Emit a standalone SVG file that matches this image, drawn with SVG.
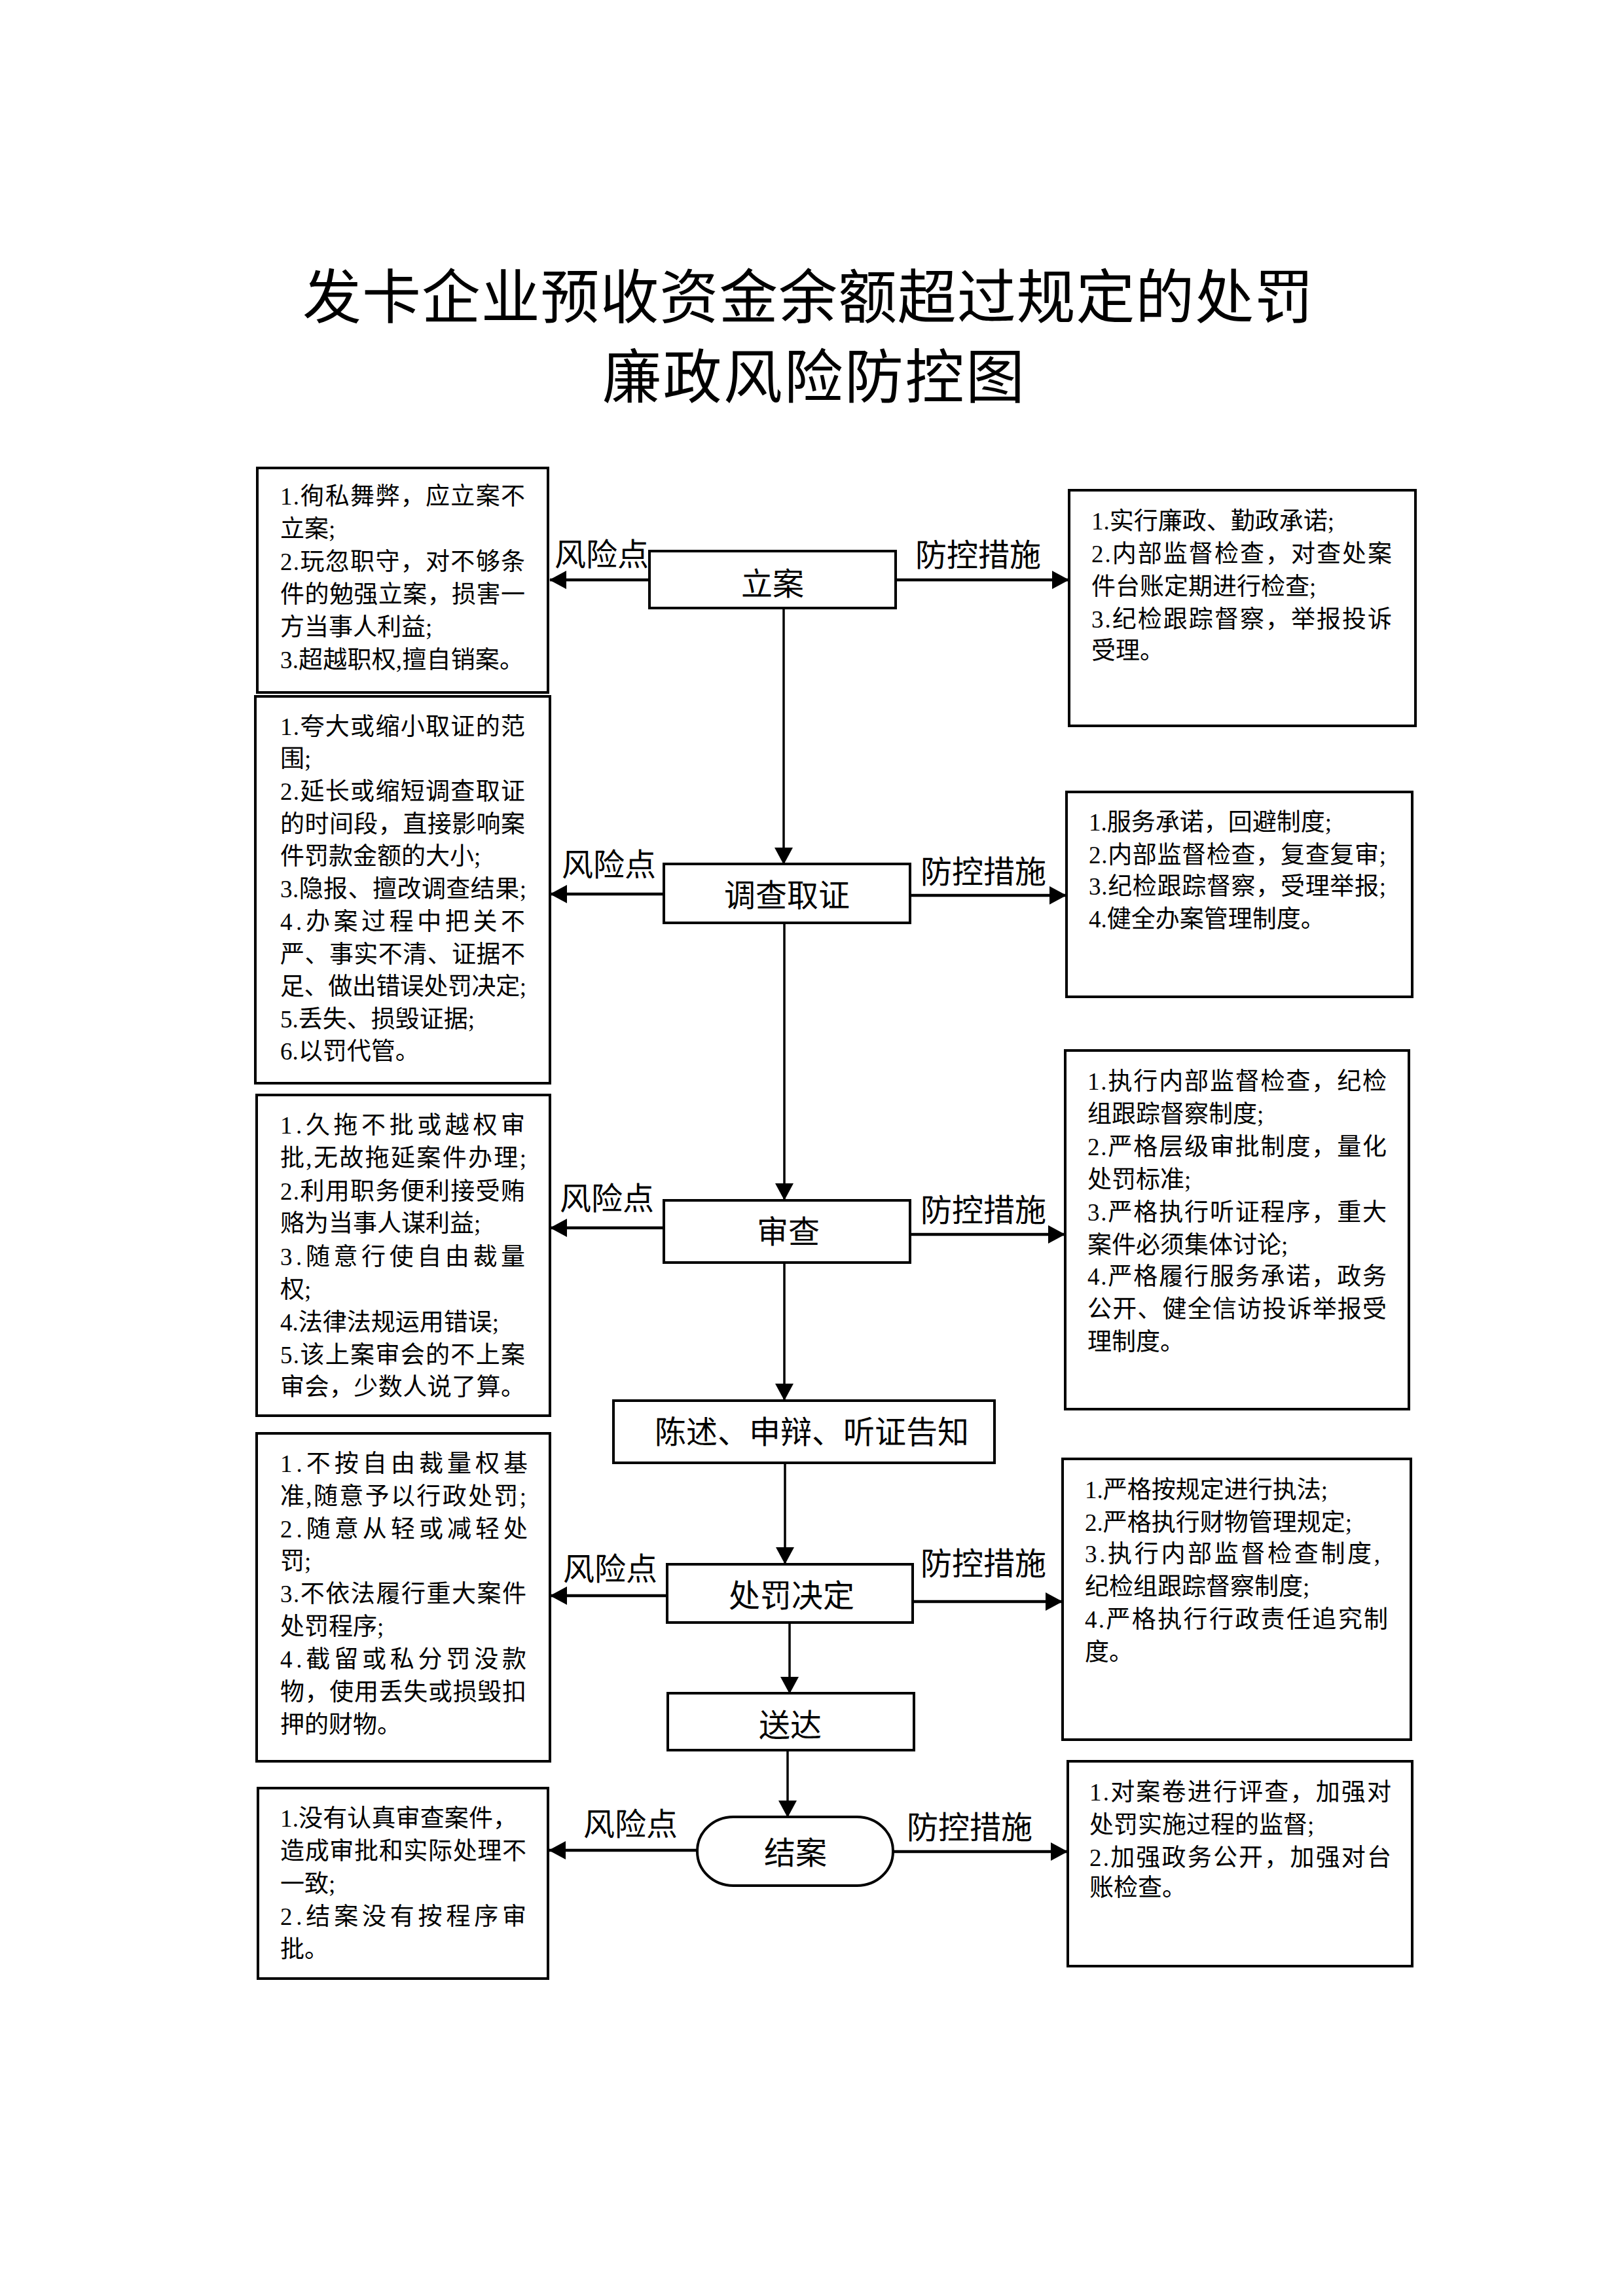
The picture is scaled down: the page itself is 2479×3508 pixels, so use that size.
<svg xmlns="http://www.w3.org/2000/svg" width="2479" height="3508" viewBox="0 0 2479 3508">
<style>
.bg{fill:#fff}
.box{fill:#fff;stroke:#000;stroke-width:4}
.t{font-family:"Liberation Serif","Noto Sans CJK SC",serif;font-size:37px;fill:#000}
.n{font-family:"Liberation Serif","Noto Sans CJK SC",serif;font-size:48px;fill:#000;text-anchor:middle}
.lbl{font-family:"Liberation Serif","Noto Sans CJK SC",serif;font-size:48px;fill:#000}
.title{font-family:"Liberation Serif","Noto Sans CJK SC",serif;font-size:90px;fill:#000}
.h{stroke:#000;stroke-width:4.5;fill:none;marker-end:url(#ah)}
.v{stroke:#000;stroke-width:3.5;fill:none;marker-end:url(#ah)}
</style>
<defs>
<marker id="ah" markerUnits="userSpaceOnUse" markerWidth="26" markerHeight="28" refX="25" refY="14" orient="auto">
<path d="M0,0 L26,14 L0,28 z" fill="#000"/>
</marker>
</defs>
<rect class="bg" x="0" y="0" width="2479" height="3508"/>

<g id="title">
<text class="title" x="462" y="486" textLength="1544" lengthAdjust="spacing">发卡企业预收资金余额超过规定的处罚</text>
<text class="title" x="920" y="608" textLength="645" lengthAdjust="spacing">廉政风险防控图</text>
</g>

<g id="connectors">
<line class="h" x1="992" y1="886" x2="840" y2="886"/>
<line class="h" x1="1368" y1="886" x2="1632" y2="886"/>
<line class="v" x1="1197" y1="929" x2="1197" y2="1320"/>
<line class="h" x1="1014" y1="1366" x2="841" y2="1366"/>
<line class="h" x1="1390" y1="1368" x2="1628" y2="1368"/>
<line class="v" x1="1198" y1="1410" x2="1198" y2="1833"/>
<line class="h" x1="1014" y1="1876" x2="841" y2="1876"/>
<line class="h" x1="1390" y1="1886" x2="1626" y2="1886"/>
<line class="v" x1="1198" y1="1929" x2="1198" y2="2139"/>
<line class="v" x1="1199" y1="2235" x2="1199" y2="2389"/>
<line class="h" x1="1019" y1="2438" x2="841" y2="2438"/>
<line class="h" x1="1394" y1="2447" x2="1622" y2="2447"/>
<line class="v" x1="1206" y1="2479" x2="1206" y2="2587"/>
<line class="v" x1="1203" y1="2674" x2="1203" y2="2776"/>
<line class="h" x1="1065" y1="2827" x2="839" y2="2827"/>
<line class="h" x1="1364" y1="2829" x2="1630" y2="2829"/>
</g>

<g id="edge-labels">
<text class="lbl" x="847" y="864">风险点</text>
<text class="lbl" x="1398" y="865">防控措施</text>
<text class="lbl" x="858" y="1338">风险点</text>
<text class="lbl" x="1406" y="1349">防控措施</text>
<text class="lbl" x="855" y="1848">风险点</text>
<text class="lbl" x="1406" y="1866">防控措施</text>
<text class="lbl" x="860" y="2414">风险点</text>
<text class="lbl" x="1406" y="2406">防控措施</text>
<text class="lbl" x="891" y="2804">风险点</text>
<text class="lbl" x="1385" y="2809">防控措施</text>
</g>

<g id="node-lian">
<rect class="box" x="992" y="842" width="376" height="87"/>
<text class="n" x="1180" y="909">立案</text>
</g>
<g id="node-diaocha">
<rect class="box" x="1014" y="1320" width="376" height="90"/>
<text class="n" x="1202" y="1385">调查取证</text>
</g>
<g id="node-shencha">
<rect class="box" x="1014" y="1834" width="376" height="95"/>
<text class="n" x="1204" y="1899">审查</text>
</g>
<g id="node-chenshu">
<rect class="box" x="937" y="2140" width="582" height="95"/>
<text class="n" x="1240" y="2205" textLength="480" lengthAdjust="spacing">陈述、申辩、听证告知</text>
</g>
<g id="node-chufa">
<rect class="box" x="1019" y="2390" width="375" height="89"/>
<text class="n" x="1209" y="2455">处罚决定</text>
</g>
<g id="node-songda">
<rect class="box" x="1020" y="2587" width="376" height="87"/>
<text class="n" x="1207" y="2653">送达</text>
</g>
<g id="node-jiean">
<rect class="box" x="1065" y="2776" width="299" height="105" rx="55" ry="52"/>
<text class="n" x="1215" y="2848">结案</text>
</g>

<g id="risk-lian">
<rect class="box" x="393" y="715" width="444" height="343"/>
<text class="t" x="428" y="771" textLength="374" lengthAdjust="spacing">1.徇私舞弊，应立案不</text>
<text class="t" x="428" y="821">立案;</text>
<text class="t" x="428" y="871" textLength="374" lengthAdjust="spacing">2.玩忽职守，对不够条</text>
<text class="t" x="428" y="921" textLength="374" lengthAdjust="spacing">件的勉强立案，损害一</text>
<text class="t" x="428" y="971">方当事人利益;</text>
<text class="t" x="428" y="1021" textLength="372" lengthAdjust="spacing">3.超越职权,擅自销案。</text>
</g>

<g id="risk-diaocha">
<rect class="box" x="390" y="1064" width="450" height="591"/>
<text class="t" x="428" y="1123" textLength="374" lengthAdjust="spacing">1.夸大或缩小取证的范</text>
<text class="t" x="428" y="1172">围;</text>
<text class="t" x="428" y="1222" textLength="374" lengthAdjust="spacing">2.延长或缩短调查取证</text>
<text class="t" x="428" y="1272" textLength="374" lengthAdjust="spacing">的时间段，直接影响案</text>
<text class="t" x="428" y="1321">件罚款金额的大小;</text>
<text class="t" x="428" y="1371" textLength="376" lengthAdjust="spacing">3.隐报、擅改调查结果;</text>
<text class="t" x="428" y="1421" textLength="374" lengthAdjust="spacing">4.办案过程中把关不</text>
<text class="t" x="428" y="1471" textLength="374" lengthAdjust="spacing">严、事实不清、证据不</text>
<text class="t" x="428" y="1520" textLength="376" lengthAdjust="spacing">足、做出错误处罚决定;</text>
<text class="t" x="428" y="1570">5.丢失、损毁证据;</text>
<text class="t" x="428" y="1619">6.以罚代管。</text>
</g>

<g id="risk-shencha">
<rect class="box" x="392" y="1673" width="448" height="490"/>
<text class="t" x="428" y="1732" textLength="374" lengthAdjust="spacing">1.久拖不批或越权审</text>
<text class="t" x="428" y="1782" textLength="376" lengthAdjust="spacing">批,无故拖延案件办理;</text>
<text class="t" x="428" y="1833" textLength="374" lengthAdjust="spacing">2.利用职务便利接受贿</text>
<text class="t" x="428" y="1882">赂为当事人谋利益;</text>
<text class="t" x="428" y="1933" textLength="374" lengthAdjust="spacing">3.随意行使自由裁量</text>
<text class="t" x="428" y="1983">权;</text>
<text class="t" x="428" y="2033">4.法律法规运用错误;</text>
<text class="t" x="428" y="2083" textLength="374" lengthAdjust="spacing">5.该上案审会的不上案</text>
<text class="t" x="428" y="2132" textLength="374" lengthAdjust="spacing">审会，少数人说了算。</text>
</g>

<g id="risk-chufa">
<rect class="box" x="392" y="2190" width="448" height="501"/>
<text class="t" x="428" y="2249" textLength="378" lengthAdjust="spacing">1.不按自由裁量权基</text>
<text class="t" x="428" y="2299" textLength="376" lengthAdjust="spacing">准,随意予以行政处罚;</text>
<text class="t" x="428" y="2349" textLength="378" lengthAdjust="spacing">2.随意从轻或减轻处</text>
<text class="t" x="428" y="2398">罚;</text>
<text class="t" x="428" y="2448" textLength="376" lengthAdjust="spacing">3.不依法履行重大案件</text>
<text class="t" x="428" y="2498">处罚程序;</text>
<text class="t" x="428" y="2548" textLength="376" lengthAdjust="spacing">4.截留或私分罚没款</text>
<text class="t" x="428" y="2598" textLength="376" lengthAdjust="spacing">物，使用丢失或损毁扣</text>
<text class="t" x="428" y="2648">押的财物。</text>
</g>

<g id="risk-jiean">
<rect class="box" x="394" y="2732" width="443" height="291"/>
<text class="t" x="428" y="2791" textLength="362" lengthAdjust="spacing">1.没有认真审查案件，</text>
<text class="t" x="428" y="2841" textLength="376" lengthAdjust="spacing">造成审批和实际处理不</text>
<text class="t" x="428" y="2891">一致;</text>
<text class="t" x="428" y="2941" textLength="376" lengthAdjust="spacing">2.结案没有按程序审</text>
<text class="t" x="428" y="2991">批。</text>
</g>

<g id="measure-lian">
<rect class="box" x="1633" y="749" width="529" height="360"/>
<text class="t" x="1667" y="809">1.实行廉政、勤政承诺;</text>
<text class="t" x="1667" y="859" textLength="459" lengthAdjust="spacing">2.内部监督检查，对查处案</text>
<text class="t" x="1667" y="909">件台账定期进行检查;</text>
<text class="t" x="1667" y="959" textLength="459" lengthAdjust="spacing">3.纪检跟踪督察，举报投诉</text>
<text class="t" x="1667" y="1007">受理。</text>
</g>

<g id="measure-diaocha">
<rect class="box" x="1629" y="1210" width="528" height="313"/>
<text class="t" x="1663" y="1269">1.服务承诺，回避制度;</text>
<text class="t" x="1663" y="1319" textLength="454" lengthAdjust="spacing">2.内部监督检查，复查复审;</text>
<text class="t" x="1663" y="1367" textLength="454" lengthAdjust="spacing">3.纪检跟踪督察，受理举报;</text>
<text class="t" x="1663" y="1417">4.健全办案管理制度。</text>
</g>

<g id="measure-shencha">
<rect class="box" x="1627" y="1605" width="525" height="548"/>
<text class="t" x="1661" y="1665" textLength="457" lengthAdjust="spacing">1.执行内部监督检查，纪检</text>
<text class="t" x="1661" y="1715">组跟踪督察制度;</text>
<text class="t" x="1661" y="1765" textLength="457" lengthAdjust="spacing">2.严格层级审批制度，量化</text>
<text class="t" x="1661" y="1815">处罚标准;</text>
<text class="t" x="1661" y="1865" textLength="457" lengthAdjust="spacing">3.严格执行听证程序，重大</text>
<text class="t" x="1661" y="1915">案件必须集体讨论;</text>
<text class="t" x="1661" y="1963" textLength="457" lengthAdjust="spacing">4.严格履行服务承诺，政务</text>
<text class="t" x="1661" y="2013" textLength="457" lengthAdjust="spacing">公开、健全信访投诉举报受</text>
<text class="t" x="1661" y="2063">理制度。</text>
</g>

<g id="measure-chufa">
<rect class="box" x="1623" y="2229" width="532" height="429"/>
<text class="t" x="1657" y="2289">1.严格按规定进行执法;</text>
<text class="t" x="1657" y="2339">2.严格执行财物管理规定;</text>
<text class="t" x="1657" y="2387" textLength="451" lengthAdjust="spacing">3.执行内部监督检查制度,</text>
<text class="t" x="1657" y="2437">纪检组跟踪督察制度;</text>
<text class="t" x="1657" y="2487" textLength="463" lengthAdjust="spacing">4.严格执行行政责任追究制</text>
<text class="t" x="1657" y="2537">度。</text>
</g>

<g id="measure-jiean">
<rect class="box" x="1631" y="2691" width="526" height="313"/>
<text class="t" x="1664" y="2751" textLength="461" lengthAdjust="spacing">1.对案卷进行评查，加强对</text>
<text class="t" x="1664" y="2801">处罚实施过程的监督;</text>
<text class="t" x="1664" y="2851" textLength="461" lengthAdjust="spacing">2.加强政务公开，加强对台</text>
<text class="t" x="1664" y="2897">账检查。</text>
</g>
</svg>
